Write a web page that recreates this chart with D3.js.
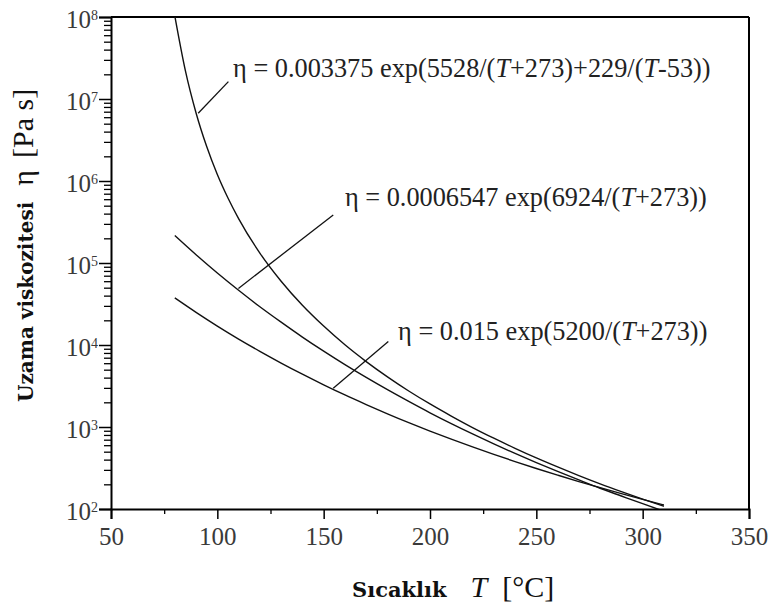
<!DOCTYPE html>
<html>
<head>
<meta charset="utf-8">
<script src="https://cdn.jsdelivr.net/npm/d3@7"></script>
<style>
  body { margin: 0; background: #fff; }
  svg { display: block; font-family: "Liberation Serif", "Times New Roman", serif; }
  .tick-label { fill: #3a3a3a; }
</style>
</head>
<body>
<div id="chart"></div>
<script>
// temperatures (°C) and elongational viscosity (Pa s)
const tempsA = [80, 85, 90, 95, 100, 105, 110, 120, 130, 140, 150, 160, 170, 180, 190, 200, 210, 220, 230, 240, 250, 260, 270, 280, 290, 300, 310];
const etaA = [1.03e8, 2.2e7, 6.76e6, 2.63e6, 1.2e6, 6.2e5, 3.48e5, 1.32e5, 5.99e4, 3.05e4, 1.7e4, 1.005e4, 6280, 4090, 2750, 1910, 1360, 985, 730, 550, 420, 326, 256, 203, 163, 132, 108];

const temps = [80, 90, 100, 110, 120, 130, 140, 150, 160, 170, 180, 190, 200, 210, 220, 230, 240, 250, 260, 270, 280, 290, 300, 310];
const etaB = [2.16e5, 1.26e5, 7.55e4, 4.65e4, 2.93e4, 1.9e4, 1.25e4, 8410, 5760, 4020, 2850, 2050, 1490, 1100, 823, 623, 476, 368, 287, 226, 179, 144, 116, 94];
const etaC = [3.75e4, 2.5e4, 1.7e4, 1.18e4, 8370, 6030, 4410, 3270, 2460, 1880, 1450, 1130, 892, 711, 571, 463, 379, 312, 259, 216, 182, 154, 131, 112];

const xTicks = [50, 100, 150, 200, 250, 300, 350];
const xMinorTicks = [75, 125, 175, 225, 275, 325];
const yExponents = [2, 3, 4, 5, 6, 7, 8];

// annotations: anchor on curve, elbow end, text position (data units)
const notes = [
  { text: ["η = 0.003375 exp(5528/(", "T", "+273)+229/(", "T", "-53))"], from: [91, 6.7e6], to: [105.2, 1.63e7], at: [107.4, 1.85e7] },
  { text: ["η = 0.0006547 exp(6924/(", "T", "+273))"], from: [109.9, 4.9e4], to: [154.5, 3.85e5], at: [160, 4.95e5] },
  { text: ["η = 0.015 exp(5200/(", "T", "+273))"], from: [154.5, 2.97e3], to: [180.4, 1.1e4], at: [185, 1.15e4] }
];

const serif = "'Liberation Serif', 'Times New Roman', serif";
const boldSerif = "'DejaVu Serif', 'Liberation Serif', serif";

const width = 773, height = 610;
const margin = { top: 17, right: 24, bottom: 101, left: 111 };
const plotW = width - margin.left - margin.right;
const plotH = height - margin.top - margin.bottom;

const svg = d3.select("#chart").append("svg")
  .attr("width", width)
  .attr("height", height);

const g = svg.append("g").attr("transform", `translate(${margin.left},${margin.top})`);

const x = d3.scaleLinear().domain([50, 350]).range([0, plotW]);
const y = d3.scaleLog().domain([1e2, 1e8]).range([plotH, 0]);

g.append("clipPath").attr("id", "clip")
  .append("rect").attr("width", plotW).attr("height", plotH);

// minor y ticks 2..9 per decade
const yMinor = [];
yExponents.slice(0, -1).forEach(e => {
  for (let m = 2; m <= 9; m++) yMinor.push(m * Math.pow(10, e));
});

g.append("g")
  .call(d3.axisLeft(y).tickValues(yMinor).tickSize(7).tickFormat(""))
  .call(a => a.select(".domain").remove())
  .selectAll("line").attr("stroke-width", 1.3);

const yAxis = g.append("g")
  .call(d3.axisLeft(y).tickValues(yExponents.map(e => Math.pow(10, e))).tickSize(12).tickFormat(""))
  .attr("font-family", serif);
yAxis.selectAll("line").attr("stroke-width", 1.5);
yAxis.select(".domain").attr("stroke-width", 2);

yAxis.selectAll(".tick").each(function(d, i) {
  const t = d3.select(this).append("text")
    .attr("class", "tick-label")
    .attr("x", -13)
    .attr("y", 0)
    .attr("dy", "0.42em")
    .attr("text-anchor", "end")
    .attr("font-family", serif)
    .style("font-size", "25px");
  t.append("tspan").text("10");
  t.append("tspan").attr("dy", "-0.6em").style("font-size", "14px").text(yExponents[i]);
});

// x axis
g.append("g")
  .attr("transform", `translate(0,${plotH})`)
  .call(d3.axisBottom(x).tickValues(xMinorTicks).tickSize(5).tickFormat(""))
  .call(a => a.select(".domain").remove())
  .selectAll("line").attr("stroke-width", 1.3);

const xAxis = g.append("g")
  .attr("transform", `translate(0,${plotH})`)
  .call(d3.axisBottom(x).tickValues(xTicks).tickSize(10).tickPadding(8))
  .attr("font-family", serif)
  .attr("font-size", 25);
xAxis.select(".domain").attr("stroke-width", 2);
xAxis.selectAll("line").attr("stroke-width", 1.5);
xAxis.selectAll("text").attr("class", "tick-label");

// frame top and right
g.append("line").attr("x1", 0).attr("x2", plotW).attr("y1", 0).attr("y2", 0)
  .attr("stroke", "#000").attr("stroke-width", 2);
g.append("line").attr("x1", plotW).attr("x2", plotW).attr("y1", 0).attr("y2", plotH)
  .attr("stroke", "#000").attr("stroke-width", 2);

// curves
const line = d3.line()
  .x(d => x(d[0]))
  .y(d => y(d[1]))
  .curve(d3.curveMonotoneX);

const series = [
  d3.zip(tempsA, etaA),
  d3.zip(temps, etaB),
  d3.zip(temps, etaC)
];

g.append("g").attr("clip-path", "url(#clip)")
  .selectAll("path").data(series).join("path")
  .attr("d", line)
  .attr("fill", "none")
  .attr("stroke", "#111")
  .attr("stroke-width", 1.4);

// annotations
notes.forEach(n => {
  g.append("line")
    .attr("x1", x(n.from[0])).attr("y1", y(n.from[1]))
    .attr("x2", x(n.to[0])).attr("y2", y(n.to[1]))
    .attr("stroke", "#111").attr("stroke-width", 1.3);
  const t = g.append("text")
    .attr("x", x(n.at[0])).attr("y", y(n.at[1]))
    .attr("font-family", serif)
    .style("font-size", "26.3px")
    .attr("fill", "#222");
  n.text.forEach(s => {
    t.append("tspan").text(s).style("font-style", s === "T" ? "italic" : null);
  });
});

// axis titles
const yTitle = svg.append("text")
  .attr("transform", "translate(33,402) rotate(-90)")
  .attr("font-family", serif)
  .attr("fill", "#111");
yTitle.append("tspan").attr("font-family", boldSerif).style("font-weight", "bold").style("font-size", "20px").text("Uzama viskozitesi");
yTitle.append("tspan").attr("dx", 16).style("font-size", "30px").text("η");
yTitle.append("tspan").attr("dx", 12).style("font-size", "30px").text("[Pa s]");

const xTitle = svg.append("text")
  .attr("transform", "translate(352,597)")
  .attr("font-family", serif)
  .attr("fill", "#111");
xTitle.append("tspan").attr("font-family", boldSerif).style("font-weight", "bold").style("font-size", "21px").text("Sıcaklık");
xTitle.append("tspan").attr("dx", 24).style("font-size", "30px").style("font-style", "italic").text("T");
xTitle.append("tspan").attr("dx", 15).style("font-size", "30px").text("[°C]");
</script>
</body>
</html>
